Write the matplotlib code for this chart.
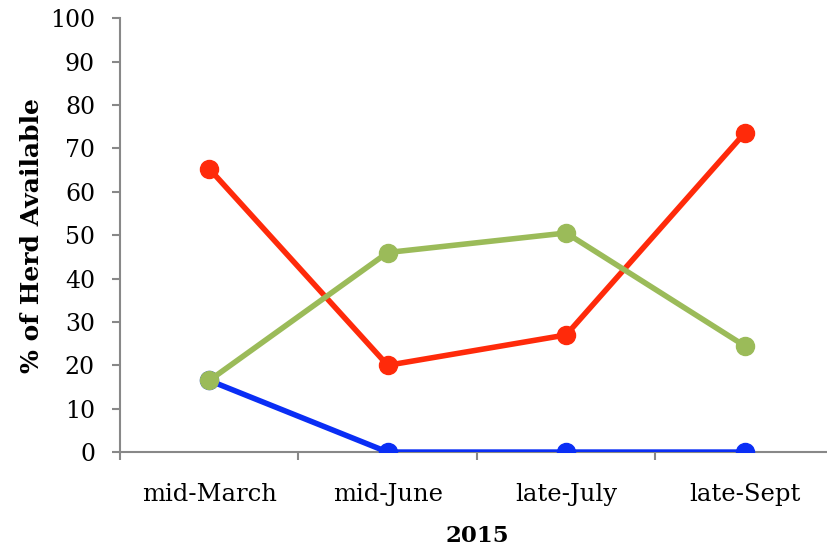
import matplotlib
matplotlib.use("Agg")
import matplotlib.pyplot as plt
from matplotlib.ticker import FixedLocator, NullFormatter

categories = ["mid-March", "mid-June", "late-July", "late-Sept"]
blue_vals = [16.5, 0, 0, 0]
red_vals = [65.3, 20.0, 27.0, 73.5]
green_vals = [16.5, 46.0, 50.5, 24.5]

plt.rcParams["font.family"] = ["DejaVu Serif"]

fig = plt.figure(figsize=(8.28, 5.52), dpi=100)
ax = fig.add_axes([0.145, 0.181, 0.862, 0.786])

x = list(range(len(categories)))
ax.plot(x, blue_vals, color="#0A2EF5", lw=4, marker="o", ms=13, zorder=3)
ax.plot(x, red_vals, color="#FF2A0A", lw=4, marker="o", ms=13, zorder=4)
ax.plot(x, green_vals, color="#9BBB59", lw=4, marker="o", ms=13, zorder=5)

ax.set_xlim(-0.5, 3.5)
ax.set_ylim(0, 100)
ax.set_yticks(range(0, 101, 10))

# category labels centred, tick marks between categories
ax.xaxis.set_major_locator(FixedLocator([-0.5, 0.5, 1.5, 2.5]))
ax.xaxis.set_major_formatter(NullFormatter())
ax.xaxis.set_minor_locator(FixedLocator(x))
ax.set_xticklabels(categories, minor=True)
ax.tick_params(axis="x", which="minor", length=0, pad=22, labelsize=17.5)
ax.tick_params(axis="x", which="major", length=6, color="#888888", width=1.5)
ax.tick_params(axis="y", length=6, color="#888888", width=1.5, labelsize=17, pad=12)

for side in ["top", "right"]:
    ax.spines[side].set_visible(False)
for side in ["left", "bottom"]:
    ax.spines[side].set_color("#888888")
    ax.spines[side].set_linewidth(1.5)

ax.set_xlabel("2015", fontsize=16.5, fontweight="bold", labelpad=14)
ax.set_ylabel("% of Herd Available", fontsize=18, fontweight="bold", labelpad=4)

fig.savefig("out.png", dpi=100)
